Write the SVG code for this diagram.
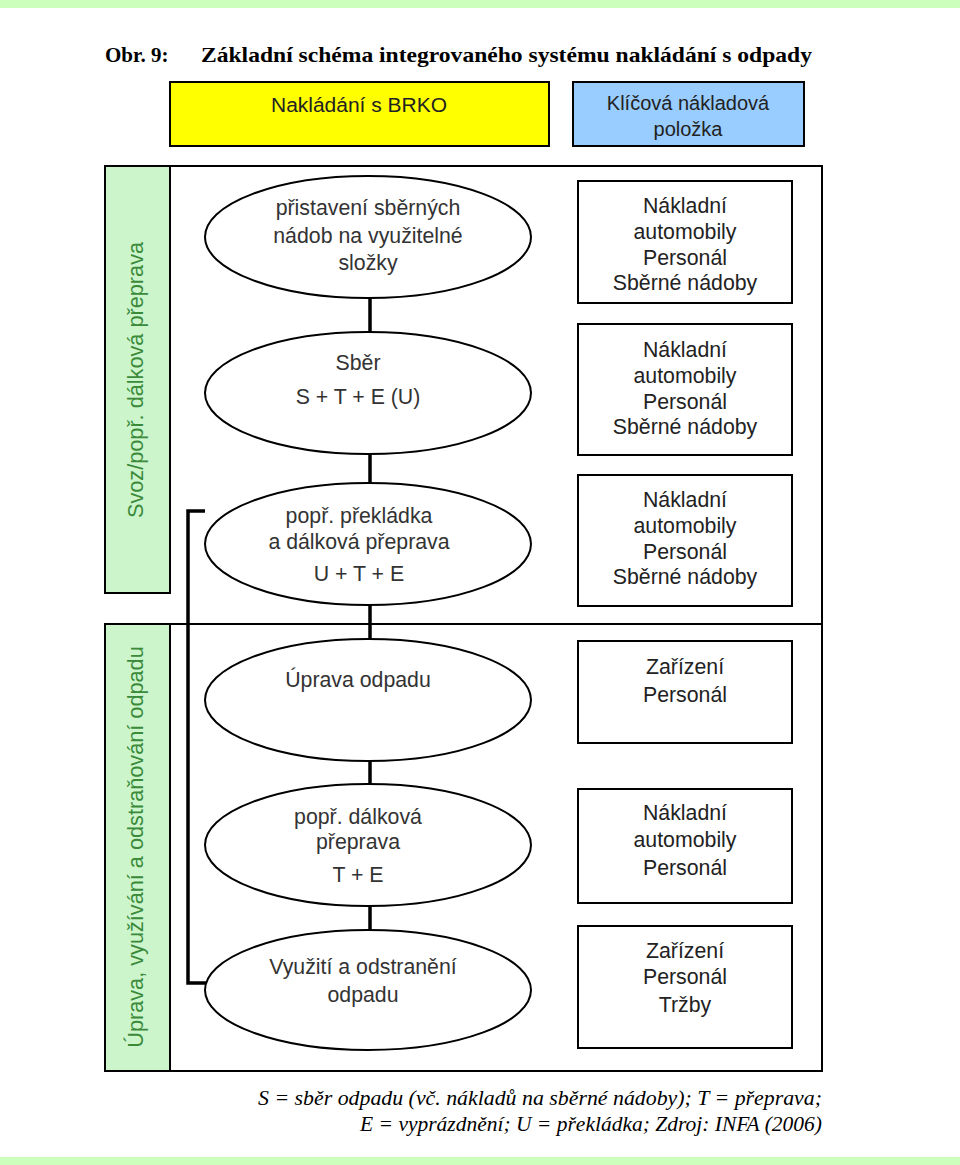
<svg xmlns="http://www.w3.org/2000/svg" width="960" height="1165" viewBox="0 0 960 1165">
<style>
.band{fill:#ccffbb}
.title{font-family:"Liberation Sans Narrow","Liberation Serif",serif;font-weight:bold;font-size:21px;fill:#000}
.hdr{font-family:"Liberation Sans",Arial,sans-serif;font-size:20px;fill:#222;text-anchor:middle}
.side{fill:#ccf5cc;stroke:#000;stroke-width:2}
.sidet{font-family:"Liberation Sans",Arial,sans-serif;font-size:21.7px;fill:#3a8a3a;text-anchor:middle}
.ell{fill:#fff;stroke:#000;stroke-width:2}
.et{font-family:"Liberation Sans",Arial,sans-serif;font-size:21.3px;fill:#333;text-anchor:middle}
.box{fill:#fff;stroke:#000;stroke-width:2}
.bt{font-family:"Liberation Sans",Arial,sans-serif;font-size:21.3px;fill:#222;text-anchor:middle}
.frame{fill:none;stroke:#000;stroke-width:2}
.conn{fill:none;stroke:#000;stroke-width:3.5}
.cap{font-family:"Liberation Serif",serif;font-style:italic;font-size:20px;fill:#000;text-anchor:end}
</style>
<rect x="0" y="0" width="960" height="8" class="band"/>
<rect x="0" y="1157" width="960" height="8" class="band"/>
<text class="title" x="105" y="62" font-family="Liberation Serif">Obr. 9:</text>
<text class="title" x="201" y="62" font-family="Liberation Serif" textLength="611" lengthAdjust="spacingAndGlyphs">Základní schéma integrovaného systému nakládání s odpady</text>

<g id="hdr-brko">
<rect x="170" y="82" width="379" height="64" fill="#ffff00" stroke="#000" stroke-width="2"/>
<text class="hdr" x="359" y="112" textLength="176" lengthAdjust="spacingAndGlyphs">Nakládání s BRKO</text>
</g>
<g id="hdr-key">
<rect x="573" y="82" width="231" height="64" fill="#99ccff" stroke="#000" stroke-width="2"/>
<text class="hdr" x="688" y="110">Klíčová nákladová</text>
<text class="hdr" x="688" y="136">položka</text>
</g>

<g id="frame">
<polyline class="frame" points="170,166 822,166 822,1071 170,1071"/>
<line class="frame" x1="170" y1="624" x2="822" y2="624"/>
</g>

<g id="side-svoz">
<rect class="side" x="105" y="166" width="65" height="427"/>
<text class="sidet" transform="translate(143,380) rotate(-90)">Svoz/popř. dálková přeprava</text>
</g>
<g id="side-uprava">
<rect class="side" x="105" y="624" width="65" height="447"/>
<text class="sidet" transform="translate(143,847) rotate(-90)">Úprava, využívání a odstraňování odpadu</text>
</g>

<g id="connectors">
<line class="conn" x1="370" y1="298" x2="370" y2="332"/>
<line class="conn" x1="370" y1="455" x2="370" y2="482"/>
<line class="conn" x1="370" y1="605" x2="370" y2="639"/>
<line class="conn" x1="370" y1="761" x2="370" y2="784"/>
<line class="conn" x1="370" y1="906" x2="370" y2="930"/>
<polyline class="conn" points="205,511 188,511 188,983 206,983"/>
</g>

<g id="e1">
<ellipse class="ell" cx="368" cy="237" rx="163" ry="61"/>
<text class="et" x="368" y="215">přistavení sběrných</text>
<text class="et" x="368" y="243">nádob na využitelné</text>
<text class="et" x="368" y="270">složky</text>
</g>
<g id="e2">
<ellipse class="ell" cx="368" cy="393" rx="163" ry="61"/>
<text class="et" x="358" y="370">Sběr</text>
<text class="et" x="358" y="404">S + T + E (U)</text>
</g>
<g id="e3">
<ellipse class="ell" cx="368" cy="544" rx="163" ry="61"/>
<text class="et" x="359" y="523">popř. překládka</text>
<text class="et" x="359" y="549">a dálková přeprava</text>
<text class="et" x="359" y="581">U + T + E</text>
</g>
<g id="e4">
<ellipse class="ell" cx="368" cy="700" rx="163" ry="61"/>
<text class="et" x="358" y="687">Úprava odpadu</text>
</g>
<g id="e5">
<ellipse class="ell" cx="368" cy="845" rx="163" ry="61"/>
<text class="et" x="358" y="824">popř. dálková</text>
<text class="et" x="358" y="849">přeprava</text>
<text class="et" x="358" y="882">T + E</text>
</g>
<g id="e6">
<ellipse class="ell" cx="368" cy="990" rx="163" ry="60"/>
<text class="et" x="363" y="974">Využití a odstranění</text>
<text class="et" x="363" y="1002">odpadu</text>
</g>

<g id="b1">
<rect class="box" x="578" y="181" width="214" height="122"/>
<text class="bt" x="685" y="213">Nákladní</text>
<text class="bt" x="685" y="239">automobily</text>
<text class="bt" x="685" y="265">Personál</text>
<text class="bt" x="685" y="290">Sběrné nádoby</text>
</g>
<g id="b2">
<rect class="box" x="578" y="324" width="214" height="131"/>
<text class="bt" x="685" y="357">Nákladní</text>
<text class="bt" x="685" y="383">automobily</text>
<text class="bt" x="685" y="409">Personál</text>
<text class="bt" x="685" y="434">Sběrné nádoby</text>
</g>
<g id="b3">
<rect class="box" x="578" y="475" width="214" height="131"/>
<text class="bt" x="685" y="507">Nákladní</text>
<text class="bt" x="685" y="533">automobily</text>
<text class="bt" x="685" y="559">Personál</text>
<text class="bt" x="685" y="584">Sběrné nádoby</text>
</g>
<g id="b4">
<rect class="box" x="578" y="641" width="214" height="102"/>
<text class="bt" x="685" y="674">Zařízení</text>
<text class="bt" x="685" y="702">Personál</text>
</g>
<g id="b5">
<rect class="box" x="578" y="789" width="214" height="114"/>
<text class="bt" x="685" y="820">Nákladní</text>
<text class="bt" x="685" y="847">automobily</text>
<text class="bt" x="685" y="875">Personál</text>
</g>
<g id="b6">
<rect class="box" x="578" y="926" width="214" height="122"/>
<text class="bt" x="685" y="958">Zařízení</text>
<text class="bt" x="685" y="984">Personál</text>
<text class="bt" x="685" y="1012">Tržby</text>
</g>

<text class="cap" x="822" y="1105" textLength="564" lengthAdjust="spacingAndGlyphs">S = sběr odpadu (vč. nákladů na sběrné nádoby); T = přeprava;</text>
<text class="cap" x="822" y="1131" textLength="462" lengthAdjust="spacingAndGlyphs">E = vyprázdnění; U = překládka; Zdroj: INFA (2006)</text>
</svg>
